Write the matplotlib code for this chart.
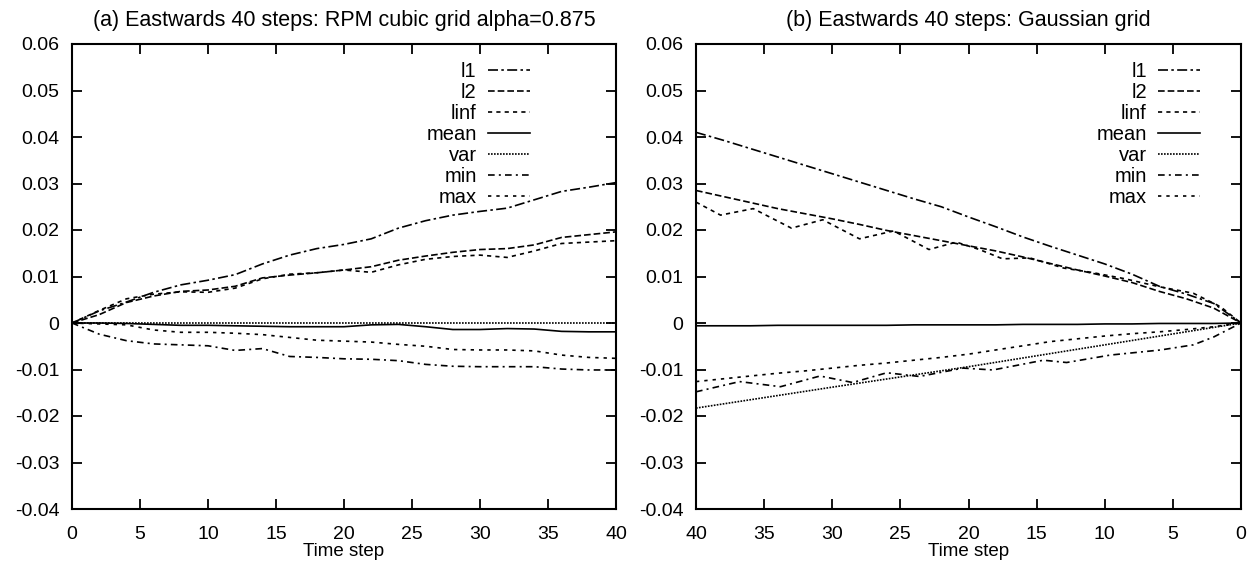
import matplotlib
matplotlib.use('Agg')
import matplotlib.pyplot as plt
from matplotlib.ticker import FuncFormatter

plt.rcParams['font.family'] = ['Liberation Sans', 'DejaVu Sans']
plt.rcParams['axes.unicode_minus'] = False

# (a) RPM cubic grid, time steps 0..40
t_a = [0, 2, 4, 6, 8, 10, 12, 14, 16, 18, 20, 22, 24, 26, 28, 30, 32, 34, 36, 38, 40]
a_l1 = [0, 0.0026, 0.0045, 0.0066, 0.0082, 0.0092, 0.0104, 0.0127, 0.0146, 0.016, 0.0169,
        0.0181, 0.0204, 0.022, 0.0232, 0.024, 0.0247, 0.0265, 0.0283, 0.0292, 0.0302]
a_l2 = [0, 0.0018, 0.0044, 0.0058, 0.0068, 0.0071, 0.0079, 0.0097, 0.0103, 0.0108, 0.0114,
        0.0121, 0.0135, 0.0144, 0.0152, 0.0158, 0.016, 0.0168, 0.0184, 0.019, 0.0196]
a_linf = [0, 0.0027, 0.0052, 0.0062, 0.0067, 0.0066, 0.0075, 0.0095, 0.0105, 0.0108, 0.0114,
          0.0109, 0.0125, 0.0137, 0.0143, 0.0146, 0.0141, 0.0155, 0.0171, 0.0174, 0.0177]
a_mean = [0, 0, -0.0001, -0.0003, -0.0005, -0.0005, -0.0006, -0.0007, -0.0008, -0.0008, -0.0008,
          -0.0004, -0.0003, -0.0008, -0.0014, -0.0014, -0.0012, -0.0013, -0.0018, -0.0019, -0.0019]
a_var = [0, 0, 0, 0, 0, 0, 0, 0, 0, 0, 0, 0, 0, 0, 0, 0, 0, 0, 0, 0, 0]
a_min = [0, -0.0024, -0.0038, -0.0045, -0.0047, -0.0049, -0.0059, -0.0055, -0.0072, -0.0074, -0.0077,
         -0.0078, -0.0081, -0.0089, -0.0093, -0.0094, -0.0094, -0.0094, -0.0099, -0.0101, -0.0101]
a_max = [0, -0.0002, -0.0004, -0.0015, -0.002, -0.002, -0.0022, -0.0025, -0.0031, -0.0037, -0.0039,
         -0.0041, -0.0046, -0.005, -0.0057, -0.0058, -0.0058, -0.006, -0.0069, -0.0074, -0.0076]

# (b) Gaussian grid, axis runs 40 -> 0
t_b = [40, 38, 36, 34, 32, 30, 28, 26, 24, 22, 20, 18, 16, 14, 12, 10, 8, 6, 4, 2, 0]
b_l1 = [0.041, 0.0393, 0.0375, 0.0357, 0.0339, 0.0321, 0.0303, 0.0285, 0.0267, 0.025, 0.0228,
        0.0207, 0.0185, 0.0165, 0.0146, 0.0127, 0.0105, 0.0079, 0.0062, 0.0042, 0]
b_l2 = [0.0285, 0.0272, 0.0259, 0.0246, 0.0235, 0.0224, 0.0212, 0.0199, 0.0188, 0.0177, 0.0166,
        0.0155, 0.0142, 0.0128, 0.0114, 0.0101, 0.0087, 0.0068, 0.0052, 0.0032, 0]
b_mean = [-0.0006, -0.0006, -0.0006, -0.0005, -0.0005, -0.0005, -0.0005, -0.0005, -0.0004, -0.0004,
          -0.0004, -0.0004, -0.0003, -0.0003, -0.0003, -0.0002, -0.0002, -0.0001, -0.0001, -0.0001, 0]
b_max = [-0.0126, -0.012, -0.0114, -0.0108, -0.0103, -0.0097, -0.0091, -0.0086, -0.008, -0.0074,
         -0.0067, -0.0058, -0.0049, -0.004, -0.0034, -0.0028, -0.0023, -0.0019, -0.0014, -0.0008, 0]
t_b_linf = [40, 38.2, 35.8, 33, 30.7, 28, 25.5, 22.9, 20.9, 19.2, 17.5, 15.5, 13, 11, 8.5, 6, 3.5, 1.5, 0]
b_linf = [0.026, 0.0232, 0.0246, 0.0204, 0.0222, 0.0181, 0.0198, 0.0158, 0.0174, 0.0158, 0.0138,
          0.014, 0.0118, 0.0109, 0.0095, 0.0078, 0.0064, 0.0035, 0]
t_b_var = [40, 30, 20, 10, 0]
b_var = [-0.0183, -0.0138, -0.0094, -0.0047, 0]
t_b_min = [40, 36.8, 33.8, 30.9, 28.5, 26, 23.6, 20.4, 18.2, 14.5, 12.8, 9.6, 5.9, 3.5, 2, 0]
b_min = [-0.0148, -0.0126, -0.0137, -0.0114, -0.0128, -0.0107, -0.0115, -0.0097, -0.0101, -0.008,
         -0.0085, -0.0069, -0.0058, -0.0047, -0.003, 0]

labels = ['l1', 'l2', 'linf', 'mean', 'var', 'min', 'max']
dashes = {
    'l1': (0, (6, 2, 1.5, 2)),
    'l2': (0, (4, 1.8)),
    'linf': (0, (2.5, 2.5)),
    'mean': '-',
    'var': (0, (1, 0.8)),
    'min': (0, (4, 2.5, 1.2, 2.5)),
    'max': (0, (2, 3)),
}

fig = plt.figure(figsize=(12.59, 5.63), dpi=100)
ax1 = fig.add_axes([72 / 1259, 54 / 563, 544 / 1259, 465 / 563])
ax2 = fig.add_axes([696 / 1259, 54 / 563, 545 / 1259, 465 / 563])

series_a = [(t_a, a_l1), (t_a, a_l2), (t_a, a_linf), (t_a, a_mean), (t_a, a_var), (t_a, a_min), (t_a, a_max)]
series_b = [(t_b, b_l1), (t_b, b_l2), (t_b_linf, b_linf), (t_b, b_mean), (t_b_var, b_var),
            (t_b_min, b_min), (t_b, b_max)]

fmt = FuncFormatter(lambda v, p: '%g' % round(v, 4))

for ax, series, title, lx in [(ax1, series_a, '(a) Eastwards 40 steps: RPM cubic grid alpha=0.875', 0.842),
                              (ax2, series_b, '(b) Eastwards 40 steps: Gaussian grid', 0.925)]:
    for lab, (x, y) in zip(labels, series):
        ax.plot(x, y, color='black', lw=1.2, linestyle=dashes[lab], label=lab)
    ax.set_ylim(-0.04, 0.06)
    ax.set_yticks([-0.04, -0.03, -0.02, -0.01, 0, 0.01, 0.02, 0.03, 0.04, 0.05, 0.06])
    ax.yaxis.set_major_formatter(fmt)
    ax.set_xticks([0, 5, 10, 15, 20, 25, 30, 35, 40])
    ax.tick_params(direction='in', length=7, width=1.3, top=True, right=True, labelsize=14)
    ax.tick_params(axis='y', pad=9)
    ax.tick_params(axis='x', pad=12)
    for s in ax.spines.values():
        s.set_linewidth(1.5)
    ax.set_title(title, fontsize=15.5, pad=13)
    ax.set_xlabel('Time step', fontsize=13.5, labelpad=0)
    leg = ax.legend(loc='upper right', bbox_to_anchor=(lx, 0.962), frameon=False, markerfirst=False,
                    fontsize=14.5, handlelength=2.1, handletextpad=0.55, labelspacing=0.1,
                    borderpad=0, borderaxespad=0)
    for col in leg._legend_handle_box.get_children():
        col.align = 'right'

ax1.set_xlim(0, 40)
ax2.set_xlim(40, 0)

fig.savefig('out.png', dpi=100)
